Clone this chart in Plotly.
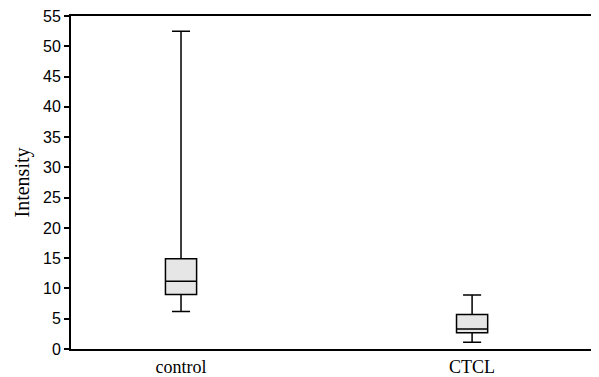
import plotly.graph_objects as go

categories = ["control", "CTCL"]
positions = [0, 1]
lower_whisker = [6.2, 1.1]
q1_vals = [9.0, 2.7]
median_vals = [11.2, 3.3]
q3_vals = [14.9, 5.7]
upper_whisker = [52.5, 8.9]
y_ticks = list(range(0, 56, 5))

fig = go.Figure()
fig.add_trace(go.Box(
    x=positions,
    q1=q1_vals, median=median_vals, q3=q3_vals,
    lowerfence=lower_whisker, upperfence=upper_whisker,
    width=0.107, whiskerwidth=0.58,
    fillcolor="#e6e6e6",
    line=dict(color="black", width=1.5),
    boxpoints=False, showlegend=False, hoverinfo="skip",
))

# page body has an 8px margin, so the figure is sized/margined to compensate
fig.update_layout(
    width=591, height=369,
    margin=dict(l=63, r=0, t=8, b=28, autoexpand=False),
    paper_bgcolor="white", plot_bgcolor="white",
    xaxis=dict(
        range=[-0.378, 1.436],
        tickvals=positions, ticktext=categories,
        showgrid=False, zeroline=False,
        showline=True, linecolor="black", linewidth=2, mirror=True,
        ticks="", automargin=False, ticklabeloverflow="allow",
        tickfont=dict(family="Liberation Serif, Times New Roman, serif", size=18, color="black"),
    ),
    yaxis=dict(
        range=[0, 55],
        tickvals=y_ticks,
        showgrid=False, zeroline=False,
        showline=True, linecolor="black", linewidth=2,
        ticks="outside", ticklen=5, tickwidth=1.5, tickcolor="black", automargin=False,
        ticklabeloverflow="allow",
        tickfont=dict(family="Liberation Sans, Arial, sans-serif", size=16, color="black"),
        title=dict(text="Intensity", font=dict(family="Liberation Serif, Times New Roman, serif", size=20, color="black"), standoff=8),
    ),
)

fig.write_html("out.html")
